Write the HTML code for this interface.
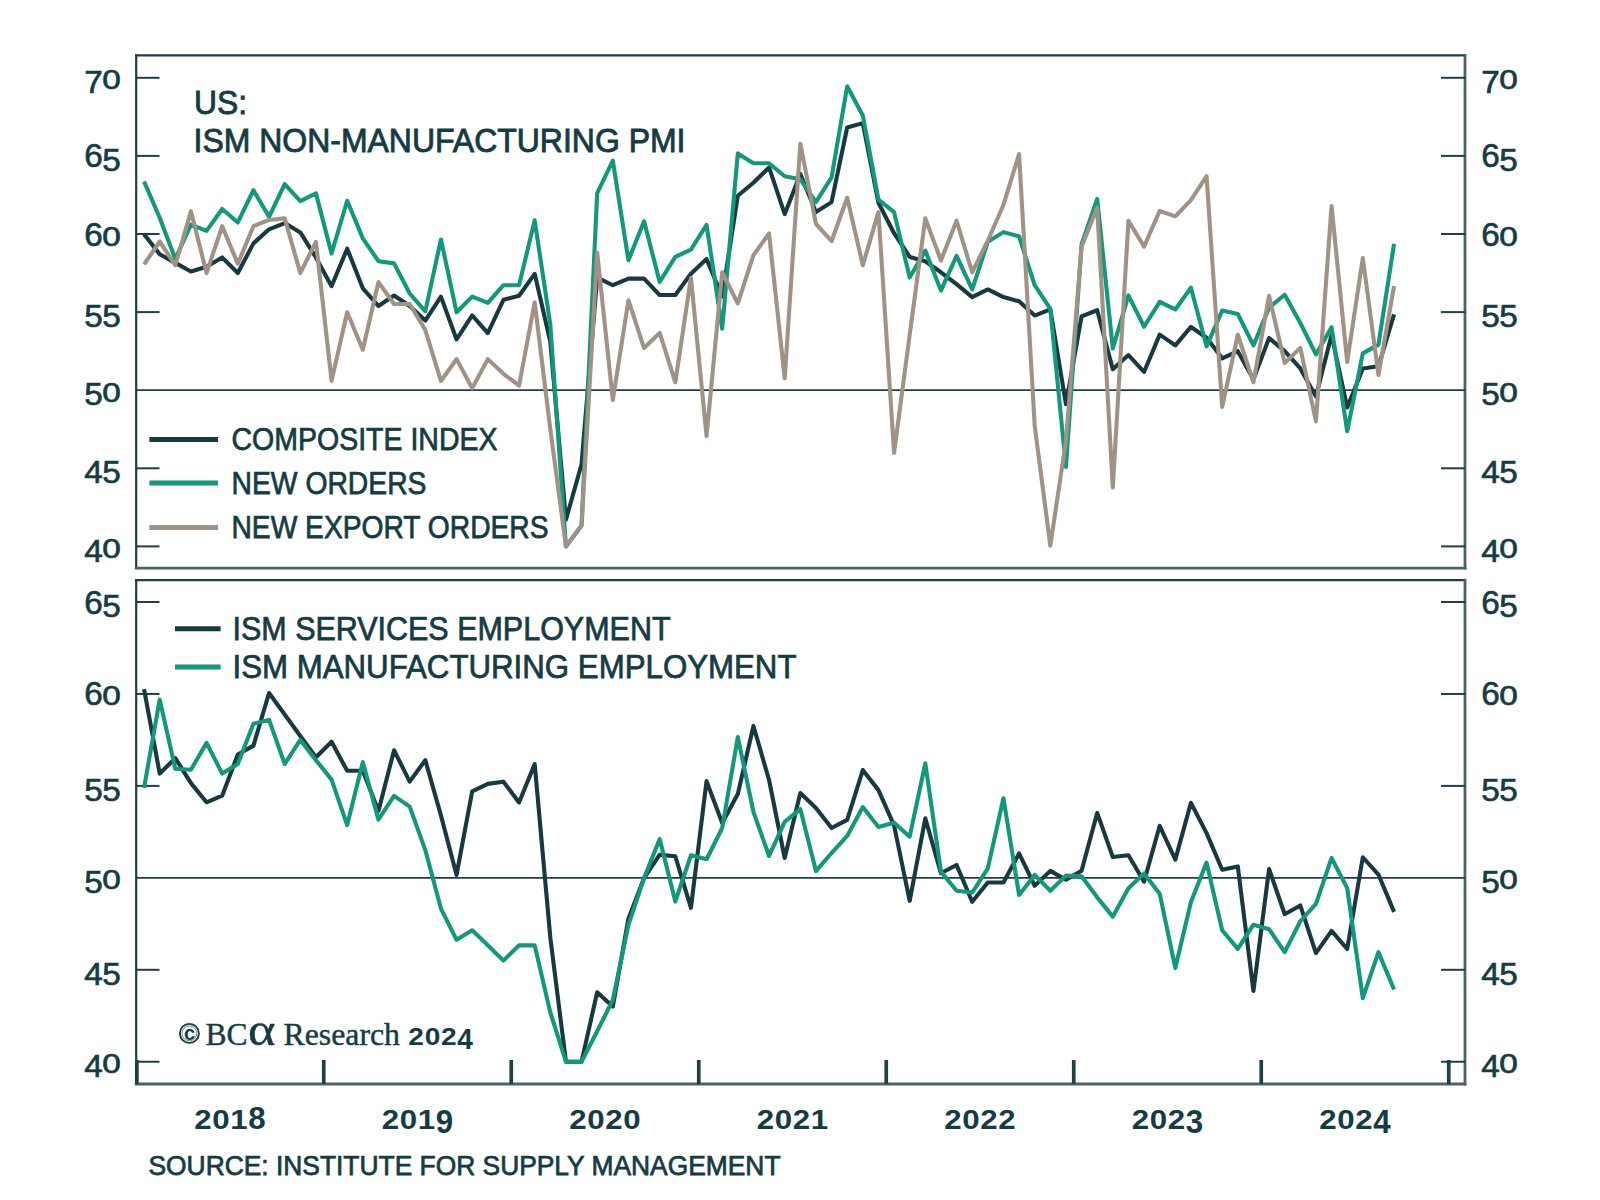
<!DOCTYPE html><html><head><meta charset="utf-8"><style>html,body{margin:0;padding:0;background:#fff;width:1600px;height:1200px;overflow:hidden}svg{display:block}text{font-family:"Liberation Sans",sans-serif;fill:#153c42}.sr{font-family:"Liberation Serif",serif}.al{stroke:#153c42;stroke-width:0.65px}.t{stroke:#153c42;stroke-width:0.9px}.lg{stroke:#153c42;stroke-width:0.75px}.src{stroke:#153c42;stroke-width:0.75px}.sr{stroke:#153c42;stroke-width:0.45px}</style></head><body>
<svg width="1600" height="1200" viewBox="0 0 1600 1200">
<rect width="1600" height="1200" fill="#fff"/>
<g fill="none" stroke-linecap="square">
<line x1="136.2" y1="55.3" x2="1465.0" y2="55.3" stroke="#1f3f46" stroke-width="2.2"/>
<line x1="136.2" y1="55.3" x2="136.2" y2="568.2" stroke="#1f3f46" stroke-width="2.2"/>
<line x1="1465.0" y1="55.3" x2="1465.0" y2="568.2" stroke="#4a6469" stroke-width="2.8"/>
<line x1="136.2" y1="568.2" x2="1465.0" y2="568.2" stroke="#4a6469" stroke-width="2.8"/>
<line x1="136.2" y1="580.2" x2="1465.0" y2="580.2" stroke="#1f3f46" stroke-width="2.2"/>
<line x1="136.2" y1="580.2" x2="136.2" y2="1084.0" stroke="#1f3f46" stroke-width="2.2"/>
<line x1="1465.0" y1="580.2" x2="1465.0" y2="1084.0" stroke="#4a6469" stroke-width="2.8"/>
<line x1="136.2" y1="1084.0" x2="1465.0" y2="1084.0" stroke="#4a6469" stroke-width="2.8"/>
</g>
<g stroke="#1f3f46" stroke-width="2">
<line x1="136.2" y1="77.80" x2="159.5" y2="77.80"/><line x1="1441" y1="77.80" x2="1465.0" y2="77.80"/>
<line x1="136.2" y1="155.90" x2="159.5" y2="155.90"/><line x1="1441" y1="155.90" x2="1465.0" y2="155.90"/>
<line x1="136.2" y1="234.00" x2="159.5" y2="234.00"/><line x1="1441" y1="234.00" x2="1465.0" y2="234.00"/>
<line x1="136.2" y1="312.10" x2="159.5" y2="312.10"/><line x1="1441" y1="312.10" x2="1465.0" y2="312.10"/>
<line x1="136.2" y1="468.30" x2="159.5" y2="468.30"/><line x1="1441" y1="468.30" x2="1465.0" y2="468.30"/>
<line x1="136.2" y1="546.40" x2="159.5" y2="546.40"/><line x1="1441" y1="546.40" x2="1465.0" y2="546.40"/>
<line x1="136.2" y1="602.00" x2="159.5" y2="602.00"/><line x1="1441" y1="602.00" x2="1465.0" y2="602.00"/>
<line x1="136.2" y1="693.95" x2="159.5" y2="693.95"/><line x1="1441" y1="693.95" x2="1465.0" y2="693.95"/>
<line x1="136.2" y1="785.90" x2="159.5" y2="785.90"/><line x1="1441" y1="785.90" x2="1465.0" y2="785.90"/>
<line x1="136.2" y1="969.80" x2="159.5" y2="969.80"/><line x1="1441" y1="969.80" x2="1465.0" y2="969.80"/>
<line x1="136.2" y1="1061.75" x2="159.5" y2="1061.75"/><line x1="1441" y1="1061.75" x2="1465.0" y2="1061.75"/>
</g>
<g stroke="#1f3f46" stroke-width="1.8"><line x1="136.2" y1="390.20" x2="1465.0" y2="390.20"/><line x1="136.2" y1="877.85" x2="1465.0" y2="877.85"/></g>
<g stroke="#1f3f46" stroke-width="3.7">
<line x1="136.85" y1="1060" x2="136.85" y2="1084.0"/>
<line x1="323.75" y1="1060" x2="323.75" y2="1084.0"/>
<line x1="511.25" y1="1060" x2="511.25" y2="1084.0"/>
<line x1="698.75" y1="1060" x2="698.75" y2="1084.0"/>
<line x1="886.25" y1="1060" x2="886.25" y2="1084.0"/>
<line x1="1073.75" y1="1060" x2="1073.75" y2="1084.0"/>
<line x1="1261.25" y1="1060" x2="1261.25" y2="1084.0"/>
<line x1="1448.75" y1="1060" x2="1448.75" y2="1084.0"/>
</g>
<g fill="none" stroke-width="4.1" stroke-linejoin="round" stroke-linecap="butt">
<polyline stroke="#17393f" points="144.06,234.16 159.69,254.31 175.31,262.90 190.94,271.49 206.56,266.80 222.19,257.43 237.81,273.05 253.44,243.37 269.06,229.31 284.69,223.07 300.31,232.44 315.94,257.43 331.56,286.17 347.19,248.68 362.81,288.36 378.44,306.01 394.06,295.54 409.69,306.01 425.31,320.53 440.94,296.64 456.56,339.44 472.19,315.38 487.81,333.03 503.44,299.76 519.06,295.70 534.69,273.83 550.31,341.78 565.94,519.69 581.56,464.24 597.19,277.58 612.81,285.23 628.44,278.67 644.06,278.67 659.69,295.07 675.31,295.07 690.94,273.83 706.56,258.99 722.19,296.48 737.81,195.73 753.44,182.77 769.06,167.46 784.69,214.16 800.31,174.02 815.94,211.98 831.56,202.14 847.19,127.47 862.81,123.10 878.44,202.76 894.06,233.22 909.69,256.96 925.31,261.33 940.94,272.27 956.56,284.14 972.19,297.10 987.81,289.45 1003.44,297.10 1019.06,301.32 1034.69,315.54 1050.31,309.44 1065.94,404.26 1081.56,316.47 1097.19,310.23 1112.81,369.27 1128.44,355.06 1144.06,371.92 1159.69,334.59 1175.31,345.37 1190.94,326.94 1206.56,337.72 1222.19,358.34 1237.81,351.15 1253.44,379.27 1269.06,338.03 1284.69,351.15 1300.31,368.49 1315.94,396.60 1331.56,334.91 1347.19,407.54 1362.81,368.49 1378.44,366.30 1394.06,314.29"/>
<polyline stroke="#12987a" points="144.06,181.52 159.69,217.76 175.31,258.99 190.94,224.63 206.56,230.88 222.19,209.01 237.81,222.44 253.44,190.26 269.06,216.82 284.69,184.02 300.31,201.20 315.94,193.39 331.56,253.52 347.19,200.73 362.81,238.37 378.44,261.18 394.06,263.37 409.69,293.51 425.31,311.32 440.94,239.47 456.56,312.26 472.19,296.64 487.81,302.88 503.44,285.23 519.06,285.23 534.69,220.25 550.31,324.60 565.94,546.40 581.56,525.47 597.19,193.08 612.81,160.59 628.44,260.24 644.06,221.35 659.69,281.95 675.31,256.96 690.94,249.62 706.56,224.94 722.19,328.66 737.81,153.40 753.44,163.24 769.06,163.24 784.69,176.21 800.31,179.33 815.94,202.14 831.56,177.30 847.19,86.23 862.81,115.44 878.44,199.64 894.06,212.13 909.69,277.58 925.31,250.56 940.94,290.54 956.56,255.87 972.19,289.45 987.81,241.81 1003.44,232.13 1019.06,236.34 1034.69,285.23 1050.31,308.98 1065.94,466.89 1081.56,244.47 1097.19,199.01 1112.81,348.49 1128.44,295.39 1144.06,326.78 1159.69,301.95 1175.31,309.44 1190.94,287.73 1206.56,346.31 1222.19,310.54 1237.81,313.97 1253.44,345.37 1269.06,307.73 1284.69,294.76 1300.31,323.03 1315.94,354.43 1331.56,327.25 1347.19,431.28 1362.81,353.34 1378.44,344.59 1394.06,243.84"/>
<polyline stroke="#a09385" points="144.06,264.46 159.69,241.50 175.31,265.24 190.94,211.19 206.56,273.05 222.19,226.19 237.81,263.68 253.44,226.19 269.06,219.94 284.69,218.38 300.31,273.05 315.94,241.81 331.56,380.83 347.19,312.26 362.81,349.74 378.44,282.11 394.06,303.98 409.69,303.98 425.31,330.06 440.94,380.98 456.56,359.12 472.19,388.33 487.81,359.12 503.44,373.80 519.06,385.51 534.69,302.42 550.31,429.25 565.94,546.40 581.56,525.47 597.19,252.74 612.81,400.04 628.44,300.23 644.06,348.03 659.69,332.87 675.31,382.39 690.94,277.74 706.56,435.97 722.19,272.27 737.81,303.35 753.44,255.24 769.06,233.53 784.69,378.33 800.31,143.72 815.94,223.85 831.56,241.19 847.19,197.76 862.81,265.24 878.44,212.13 894.06,452.99 909.69,334.75 925.31,218.38 940.94,260.55 956.56,220.72 972.19,272.27 987.81,240.72 1003.44,204.95 1019.06,154.03 1034.69,425.66 1050.31,545.62 1065.94,440.96 1081.56,246.65 1097.19,207.60 1112.81,487.51 1128.44,220.72 1144.06,246.65 1159.69,210.88 1175.31,216.35 1190.94,200.10 1206.56,176.21 1222.19,406.91 1237.81,334.75 1253.44,382.39 1269.06,295.86 1284.69,363.02 1300.31,347.87 1315.94,421.44 1331.56,206.04 1347.19,361.93 1362.81,258.05 1378.44,375.05 1394.06,286.17"/>
<polyline stroke="#17393f" points="144.06,689.17 159.69,773.58 175.31,758.13 190.94,783.14 206.56,802.27 222.19,795.65 237.81,754.45 253.44,745.63 269.06,693.03 284.69,714.55 300.31,736.06 315.94,757.21 331.56,741.76 347.19,770.82 362.81,770.82 378.44,810.91 394.06,750.22 409.69,781.67 425.31,760.15 440.94,815.32 456.56,874.91 472.19,791.42 487.81,783.88 503.44,781.67 519.06,802.45 534.69,764.02 550.31,937.43 565.94,1061.75 581.56,1061.75 597.19,992.24 612.81,1006.58 628.44,918.68 644.06,878.03 659.69,854.68 675.31,856.33 690.94,907.83 706.56,781.12 722.19,823.05 737.81,793.99 753.44,725.95 769.06,780.02 784.69,857.99 800.31,793.07 815.94,807.97 831.56,828.01 847.19,819.92 862.81,770.08 878.44,790.13 894.06,825.44 909.69,900.84 925.31,818.27 940.94,873.25 956.56,864.98 972.19,901.76 987.81,882.45 1003.44,882.45 1019.06,853.39 1034.69,885.76 1050.31,870.86 1065.94,879.69 1081.56,870.68 1097.19,812.93 1112.81,857.07 1128.44,855.23 1144.06,881.71 1159.69,825.81 1175.31,859.64 1190.94,802.82 1206.56,833.16 1222.19,869.76 1237.81,866.45 1253.44,990.95 1269.06,869.02 1284.69,914.26 1300.31,905.43 1315.94,953.07 1331.56,930.81 1347.19,949.02 1362.81,857.25 1378.44,874.54 1394.06,911.87"/>
<polyline stroke="#12987a" points="144.06,787.92 159.69,699.65 175.31,768.80 190.94,769.72 206.56,742.87 222.19,773.58 237.81,764.02 253.44,723.74 269.06,719.88 284.69,764.02 300.31,739.92 315.94,760.15 331.56,779.65 347.19,825.07 362.81,762.18 378.44,819.74 394.06,795.83 409.69,806.68 425.31,850.08 440.94,908.56 456.56,939.82 472.19,930.26 487.81,945.34 503.44,960.61 519.06,945.34 534.69,945.34 550.31,1012.46 565.94,1061.75 581.56,1061.75 597.19,1031.22 612.81,999.96 628.44,924.93 644.06,878.03 659.69,839.05 675.31,901.57 690.94,855.23 706.56,859.28 722.19,828.01 737.81,736.98 753.44,812.01 769.06,855.97 784.69,821.94 800.31,809.07 815.94,871.05 831.56,853.02 847.19,835.92 862.81,807.05 878.44,826.91 894.06,822.68 909.69,836.66 925.31,763.28 940.94,871.60 956.56,890.72 972.19,892.56 987.81,868.29 1003.44,798.22 1019.06,894.95 1034.69,874.91 1050.31,890.72 1065.94,875.64 1081.56,876.19 1097.19,897.34 1112.81,916.65 1128.44,888.15 1144.06,873.44 1159.69,893.67 1175.31,967.96 1190.94,901.94 1206.56,862.59 1222.19,930.26 1237.81,948.84 1253.44,924.74 1269.06,929.16 1284.69,952.15 1300.31,921.25 1315.94,903.96 1331.56,857.99 1347.19,888.15 1362.81,998.12 1378.44,952.15 1394.06,989.48"/>
</g>
<text x="93.50" y="92.90" text-anchor="middle" font-size="32.06" class="al" textLength="18.54" lengthAdjust="spacingAndGlyphs">7</text><text x="111.50" y="89.30" text-anchor="middle" font-size="26.95" class="al" textLength="18.54" lengthAdjust="spacingAndGlyphs">0</text>
<text x="1490.50" y="92.90" text-anchor="middle" font-size="32.06" class="al" textLength="18.54" lengthAdjust="spacingAndGlyphs">7</text><text x="1508.50" y="89.30" text-anchor="middle" font-size="26.95" class="al" textLength="18.54" lengthAdjust="spacingAndGlyphs">0</text>
<text x="93.50" y="167.40" text-anchor="middle" font-size="33.48" class="al" textLength="18.54" lengthAdjust="spacingAndGlyphs">6</text><text x="111.50" y="171.00" text-anchor="middle" font-size="32.06" class="al" textLength="18.54" lengthAdjust="spacingAndGlyphs">5</text>
<text x="1490.50" y="167.40" text-anchor="middle" font-size="33.48" class="al" textLength="18.54" lengthAdjust="spacingAndGlyphs">6</text><text x="1508.50" y="171.00" text-anchor="middle" font-size="32.06" class="al" textLength="18.54" lengthAdjust="spacingAndGlyphs">5</text>
<text x="93.50" y="245.50" text-anchor="middle" font-size="33.48" class="al" textLength="18.54" lengthAdjust="spacingAndGlyphs">6</text><text x="111.50" y="245.50" text-anchor="middle" font-size="26.95" class="al" textLength="18.54" lengthAdjust="spacingAndGlyphs">0</text>
<text x="1490.50" y="245.50" text-anchor="middle" font-size="33.48" class="al" textLength="18.54" lengthAdjust="spacingAndGlyphs">6</text><text x="1508.50" y="245.50" text-anchor="middle" font-size="26.95" class="al" textLength="18.54" lengthAdjust="spacingAndGlyphs">0</text>
<text x="93.50" y="327.20" text-anchor="middle" font-size="32.06" class="al" textLength="18.54" lengthAdjust="spacingAndGlyphs">5</text><text x="111.50" y="327.20" text-anchor="middle" font-size="32.06" class="al" textLength="18.54" lengthAdjust="spacingAndGlyphs">5</text>
<text x="1490.50" y="327.20" text-anchor="middle" font-size="32.06" class="al" textLength="18.54" lengthAdjust="spacingAndGlyphs">5</text><text x="1508.50" y="327.20" text-anchor="middle" font-size="32.06" class="al" textLength="18.54" lengthAdjust="spacingAndGlyphs">5</text>
<text x="93.50" y="405.30" text-anchor="middle" font-size="32.06" class="al" textLength="18.54" lengthAdjust="spacingAndGlyphs">5</text><text x="111.50" y="401.70" text-anchor="middle" font-size="26.95" class="al" textLength="18.54" lengthAdjust="spacingAndGlyphs">0</text>
<text x="1490.50" y="405.30" text-anchor="middle" font-size="32.06" class="al" textLength="18.54" lengthAdjust="spacingAndGlyphs">5</text><text x="1508.50" y="401.70" text-anchor="middle" font-size="26.95" class="al" textLength="18.54" lengthAdjust="spacingAndGlyphs">0</text>
<text x="93.50" y="483.40" text-anchor="middle" font-size="32.06" class="al" textLength="18.54" lengthAdjust="spacingAndGlyphs">4</text><text x="111.50" y="483.40" text-anchor="middle" font-size="32.06" class="al" textLength="18.54" lengthAdjust="spacingAndGlyphs">5</text>
<text x="1490.50" y="483.40" text-anchor="middle" font-size="32.06" class="al" textLength="18.54" lengthAdjust="spacingAndGlyphs">4</text><text x="1508.50" y="483.40" text-anchor="middle" font-size="32.06" class="al" textLength="18.54" lengthAdjust="spacingAndGlyphs">5</text>
<text x="93.50" y="561.50" text-anchor="middle" font-size="32.06" class="al" textLength="18.54" lengthAdjust="spacingAndGlyphs">4</text><text x="111.50" y="557.90" text-anchor="middle" font-size="26.95" class="al" textLength="18.54" lengthAdjust="spacingAndGlyphs">0</text>
<text x="1490.50" y="561.50" text-anchor="middle" font-size="32.06" class="al" textLength="18.54" lengthAdjust="spacingAndGlyphs">4</text><text x="1508.50" y="557.90" text-anchor="middle" font-size="26.95" class="al" textLength="18.54" lengthAdjust="spacingAndGlyphs">0</text>
<text x="93.50" y="613.50" text-anchor="middle" font-size="33.48" class="al" textLength="18.54" lengthAdjust="spacingAndGlyphs">6</text><text x="111.50" y="617.10" text-anchor="middle" font-size="32.06" class="al" textLength="18.54" lengthAdjust="spacingAndGlyphs">5</text>
<text x="1490.50" y="613.50" text-anchor="middle" font-size="33.48" class="al" textLength="18.54" lengthAdjust="spacingAndGlyphs">6</text><text x="1508.50" y="617.10" text-anchor="middle" font-size="32.06" class="al" textLength="18.54" lengthAdjust="spacingAndGlyphs">5</text>
<text x="93.50" y="705.45" text-anchor="middle" font-size="33.48" class="al" textLength="18.54" lengthAdjust="spacingAndGlyphs">6</text><text x="111.50" y="705.45" text-anchor="middle" font-size="26.95" class="al" textLength="18.54" lengthAdjust="spacingAndGlyphs">0</text>
<text x="1490.50" y="705.45" text-anchor="middle" font-size="33.48" class="al" textLength="18.54" lengthAdjust="spacingAndGlyphs">6</text><text x="1508.50" y="705.45" text-anchor="middle" font-size="26.95" class="al" textLength="18.54" lengthAdjust="spacingAndGlyphs">0</text>
<text x="93.50" y="801.00" text-anchor="middle" font-size="32.06" class="al" textLength="18.54" lengthAdjust="spacingAndGlyphs">5</text><text x="111.50" y="801.00" text-anchor="middle" font-size="32.06" class="al" textLength="18.54" lengthAdjust="spacingAndGlyphs">5</text>
<text x="1490.50" y="801.00" text-anchor="middle" font-size="32.06" class="al" textLength="18.54" lengthAdjust="spacingAndGlyphs">5</text><text x="1508.50" y="801.00" text-anchor="middle" font-size="32.06" class="al" textLength="18.54" lengthAdjust="spacingAndGlyphs">5</text>
<text x="93.50" y="892.95" text-anchor="middle" font-size="32.06" class="al" textLength="18.54" lengthAdjust="spacingAndGlyphs">5</text><text x="111.50" y="889.35" text-anchor="middle" font-size="26.95" class="al" textLength="18.54" lengthAdjust="spacingAndGlyphs">0</text>
<text x="1490.50" y="892.95" text-anchor="middle" font-size="32.06" class="al" textLength="18.54" lengthAdjust="spacingAndGlyphs">5</text><text x="1508.50" y="889.35" text-anchor="middle" font-size="26.95" class="al" textLength="18.54" lengthAdjust="spacingAndGlyphs">0</text>
<text x="93.50" y="984.90" text-anchor="middle" font-size="32.06" class="al" textLength="18.54" lengthAdjust="spacingAndGlyphs">4</text><text x="111.50" y="984.90" text-anchor="middle" font-size="32.06" class="al" textLength="18.54" lengthAdjust="spacingAndGlyphs">5</text>
<text x="1490.50" y="984.90" text-anchor="middle" font-size="32.06" class="al" textLength="18.54" lengthAdjust="spacingAndGlyphs">4</text><text x="1508.50" y="984.90" text-anchor="middle" font-size="32.06" class="al" textLength="18.54" lengthAdjust="spacingAndGlyphs">5</text>
<text x="93.50" y="1076.85" text-anchor="middle" font-size="32.06" class="al" textLength="18.54" lengthAdjust="spacingAndGlyphs">4</text><text x="111.50" y="1073.25" text-anchor="middle" font-size="26.95" class="al" textLength="18.54" lengthAdjust="spacingAndGlyphs">0</text>
<text x="1490.50" y="1076.85" text-anchor="middle" font-size="32.06" class="al" textLength="18.54" lengthAdjust="spacingAndGlyphs">4</text><text x="1508.50" y="1073.25" text-anchor="middle" font-size="26.95" class="al" textLength="18.54" lengthAdjust="spacingAndGlyphs">0</text>
<text x="194" y="114" font-size="34" class="t" textLength="53" lengthAdjust="spacingAndGlyphs">US:</text>
<text x="193.5" y="152.3" font-size="34" class="t" textLength="492" lengthAdjust="spacingAndGlyphs">ISM NON-MANUFACTURING PMI</text>
<line x1="149.4" y1="439.4" x2="218.1" y2="439.4" stroke="#17393f" stroke-width="5"/>
<text x="231.5" y="449.9" font-size="31.5" class="lg" textLength="266" lengthAdjust="spacingAndGlyphs">COMPOSITE INDEX</text>
<line x1="149.4" y1="483.1" x2="218.1" y2="483.1" stroke="#12987a" stroke-width="5"/>
<text x="231.5" y="493.6" font-size="31.5" class="lg" textLength="195" lengthAdjust="spacingAndGlyphs">NEW ORDERS</text>
<line x1="149.4" y1="527.4" x2="218.1" y2="527.4" stroke="#a09385" stroke-width="5"/>
<text x="231.5" y="537.9" font-size="31.5" class="lg" textLength="317" lengthAdjust="spacingAndGlyphs">NEW EXPORT ORDERS</text>
<line x1="175" y1="628.75" x2="220.6" y2="628.75" stroke="#17393f" stroke-width="5"/>
<text x="232.5" y="640.0" font-size="32.5" class="lg" textLength="438" lengthAdjust="spacingAndGlyphs">ISM SERVICES EMPLOYMENT</text>
<line x1="175" y1="666.9" x2="220.6" y2="666.9" stroke="#12987a" stroke-width="5"/>
<text x="232.5" y="678.2" font-size="32.5" class="lg" textLength="564" lengthAdjust="spacingAndGlyphs">ISM MANUFACTURING EMPLOYMENT</text>
<circle cx="189.4" cy="1033.4" r="9.5" fill="none" stroke="#153c42" stroke-width="1.9"/>
<circle cx="189.4" cy="1033.4" r="7.4" fill="none" stroke="#153c42" stroke-width="0.8" opacity="0.75"/>
<text x="189.6" y="1040.3" text-anchor="middle" font-size="20" font-weight="bold">c</text>
<text x="205.6" y="1045" class="sr" font-size="32.5" textLength="42" lengthAdjust="spacingAndGlyphs">BC</text>
<text x="248" y="1045" class="sr" font-size="46" textLength="27.5" lengthAdjust="spacingAndGlyphs">α</text>
<text x="283.5" y="1045" class="sr" font-size="32" textLength="116.5" lengthAdjust="spacingAndGlyphs">Research</text>
<text x="416.20" y="1045.00" text-anchor="middle" font-size="24.11" font-weight="bold" textLength="15.64" lengthAdjust="spacingAndGlyphs">2</text><text x="432.50" y="1045.00" text-anchor="middle" font-size="24.11" font-weight="bold" textLength="15.64" lengthAdjust="spacingAndGlyphs">0</text><text x="448.80" y="1045.00" text-anchor="middle" font-size="24.11" font-weight="bold" textLength="15.64" lengthAdjust="spacingAndGlyphs">2</text><text x="465.10" y="1049.40" text-anchor="middle" font-size="30.35" font-weight="bold" textLength="15.64" lengthAdjust="spacingAndGlyphs">4</text>
<text x="203.00" y="1129.00" text-anchor="middle" font-size="26.95" font-weight="bold" textLength="17.38" lengthAdjust="spacingAndGlyphs">2</text><text x="221.00" y="1129.00" text-anchor="middle" font-size="26.95" font-weight="bold" textLength="17.38" lengthAdjust="spacingAndGlyphs">0</text><text x="239.00" y="1129.00" text-anchor="middle" font-size="26.95" font-weight="bold" textLength="17.38" lengthAdjust="spacingAndGlyphs">1</text><text x="257.00" y="1129.00" text-anchor="middle" font-size="32.06" font-weight="bold" textLength="17.38" lengthAdjust="spacingAndGlyphs">8</text>
<text x="390.50" y="1129.00" text-anchor="middle" font-size="26.95" font-weight="bold" textLength="17.38" lengthAdjust="spacingAndGlyphs">2</text><text x="408.50" y="1129.00" text-anchor="middle" font-size="26.95" font-weight="bold" textLength="17.38" lengthAdjust="spacingAndGlyphs">0</text><text x="426.50" y="1129.00" text-anchor="middle" font-size="26.95" font-weight="bold" textLength="17.38" lengthAdjust="spacingAndGlyphs">1</text><text x="444.50" y="1133.00" text-anchor="middle" font-size="32.62" font-weight="bold" textLength="17.38" lengthAdjust="spacingAndGlyphs">9</text>
<text x="578.00" y="1129.00" text-anchor="middle" font-size="26.95" font-weight="bold" textLength="17.38" lengthAdjust="spacingAndGlyphs">2</text><text x="596.00" y="1129.00" text-anchor="middle" font-size="26.95" font-weight="bold" textLength="17.38" lengthAdjust="spacingAndGlyphs">0</text><text x="614.00" y="1129.00" text-anchor="middle" font-size="26.95" font-weight="bold" textLength="17.38" lengthAdjust="spacingAndGlyphs">2</text><text x="632.00" y="1129.00" text-anchor="middle" font-size="26.95" font-weight="bold" textLength="17.38" lengthAdjust="spacingAndGlyphs">0</text>
<text x="765.50" y="1129.00" text-anchor="middle" font-size="26.95" font-weight="bold" textLength="17.38" lengthAdjust="spacingAndGlyphs">2</text><text x="783.50" y="1129.00" text-anchor="middle" font-size="26.95" font-weight="bold" textLength="17.38" lengthAdjust="spacingAndGlyphs">0</text><text x="801.50" y="1129.00" text-anchor="middle" font-size="26.95" font-weight="bold" textLength="17.38" lengthAdjust="spacingAndGlyphs">2</text><text x="819.50" y="1129.00" text-anchor="middle" font-size="26.95" font-weight="bold" textLength="17.38" lengthAdjust="spacingAndGlyphs">1</text>
<text x="953.00" y="1129.00" text-anchor="middle" font-size="26.95" font-weight="bold" textLength="17.38" lengthAdjust="spacingAndGlyphs">2</text><text x="971.00" y="1129.00" text-anchor="middle" font-size="26.95" font-weight="bold" textLength="17.38" lengthAdjust="spacingAndGlyphs">0</text><text x="989.00" y="1129.00" text-anchor="middle" font-size="26.95" font-weight="bold" textLength="17.38" lengthAdjust="spacingAndGlyphs">2</text><text x="1007.00" y="1129.00" text-anchor="middle" font-size="26.95" font-weight="bold" textLength="17.38" lengthAdjust="spacingAndGlyphs">2</text>
<text x="1140.50" y="1129.00" text-anchor="middle" font-size="26.95" font-weight="bold" textLength="17.38" lengthAdjust="spacingAndGlyphs">2</text><text x="1158.50" y="1129.00" text-anchor="middle" font-size="26.95" font-weight="bold" textLength="17.38" lengthAdjust="spacingAndGlyphs">0</text><text x="1176.50" y="1129.00" text-anchor="middle" font-size="26.95" font-weight="bold" textLength="17.38" lengthAdjust="spacingAndGlyphs">2</text><text x="1194.50" y="1133.00" text-anchor="middle" font-size="32.62" font-weight="bold" textLength="17.38" lengthAdjust="spacingAndGlyphs">3</text>
<text x="1328.00" y="1129.00" text-anchor="middle" font-size="26.95" font-weight="bold" textLength="17.38" lengthAdjust="spacingAndGlyphs">2</text><text x="1346.00" y="1129.00" text-anchor="middle" font-size="26.95" font-weight="bold" textLength="17.38" lengthAdjust="spacingAndGlyphs">0</text><text x="1364.00" y="1129.00" text-anchor="middle" font-size="26.95" font-weight="bold" textLength="17.38" lengthAdjust="spacingAndGlyphs">2</text><text x="1382.00" y="1133.00" text-anchor="middle" font-size="32.62" font-weight="bold" textLength="17.38" lengthAdjust="spacingAndGlyphs">4</text>
<text x="148.5" y="1175.3" font-size="27" class="src" textLength="632" lengthAdjust="spacingAndGlyphs">SOURCE: INSTITUTE FOR SUPPLY MANAGEMENT</text>
</svg></body></html>
